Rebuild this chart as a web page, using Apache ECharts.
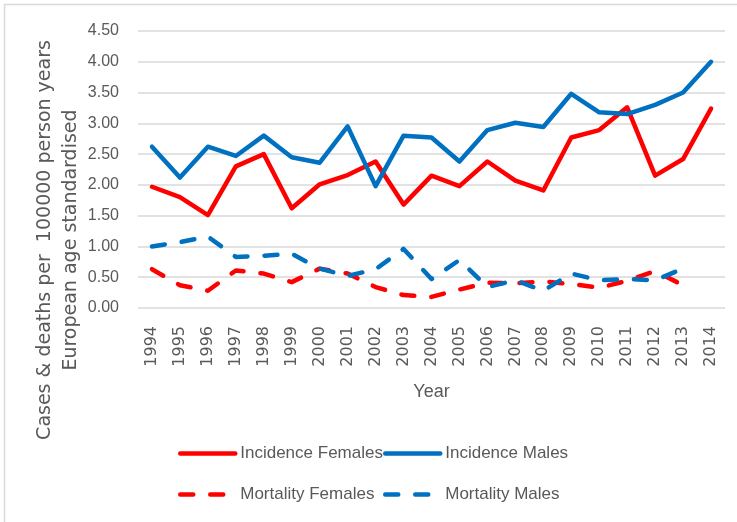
<!DOCTYPE html>
<html>
<head>
<meta charset="utf-8">
<script src="https://cdn.jsdelivr.net/npm/echarts@6/dist/echarts.min.js"></script>
<style>
html,body{margin:0;padding:0;background:#fff;}
#chart{width:737px;height:522px;}
</style>
</head>
<body>
<div id="chart"></div>
<script>
const years = ['1994','1995','1996','1997','1998','1999','2000','2001','2002','2003','2004','2005','2006','2007','2008','2009','2010','2011','2012','2013','2014'];
const incidenceFemales = [1.97,1.80,1.51,2.30,2.50,1.62,2.01,2.16,2.38,1.68,2.15,1.98,2.38,2.07,1.91,2.77,2.89,3.26,2.15,2.42,3.24];
const incidenceMales   = [2.62,2.12,2.62,2.47,2.80,2.45,2.36,2.95,1.98,2.80,2.77,2.38,2.89,3.01,2.94,3.48,3.18,3.15,3.30,3.50,4.00];
const mortalityFemales = [0.63,0.37,0.28,0.61,0.56,0.42,0.64,0.56,0.34,0.21,0.18,0.30,0.41,0.40,0.43,0.39,0.33,0.44,0.60,0.37,null];
const mortalityMales   = [1.00,1.07,1.16,0.83,0.85,0.88,0.64,0.52,0.63,0.96,0.47,0.78,0.34,0.45,0.28,0.56,0.45,0.47,0.45,0.64,null];
const yTicks = [0,0.5,1,1.5,2,2.5,3,3.5,4,4.5];
const seriesNames = ['Incidence Females','Incidence Males','Mortality Females','Mortality Males'];

const RED = '#ff0000', BLUE = '#0070c0', GREY = '#595959';
const DASH = [13, 17];
const chart = echarts.init(document.getElementById('chart'));

function mkSeries(name, data, color, dashed) {
  return {
    name: name, type: 'line', data: data, symbol: 'none', connectNulls: false,
    lineStyle: { color: color, width: 4.5, type: dashed ? DASH : 'solid', cap: 'round', join: 'round' },
    itemStyle: { color: color }
  };
}
function mkLegend(name, color, dashed, left, top) {
  return {
    data: [name], left: left, top: top, padding: 0, itemWidth: 55, itemHeight: 14, itemGap: 0,
    itemStyle: { opacity: 0 },
    lineStyle: { color: color, width: 4.5, type: dashed ? DASH : 'solid', cap: 'round' },
    textStyle: { fontFamily: 'Liberation Sans', fontSize: 17, color: GREY }
  };
}

chart.setOption({
  animation: false,
  backgroundColor: '#fff',
  grid: { left: 138, right: 12, top: 31, bottom: 214 },
  xAxis: {
    type: 'category', data: years, boundaryGap: true,
    axisLine: { show: false }, axisTick: { show: false },
    axisLabel: { rotate: 90, margin: 18, color: GREY, fontFamily: 'DejaVu Sans', fontSize: 16 },
    name: 'Year', nameLocation: 'middle', nameGap: 75,
    nameTextStyle: { color: GREY, fontFamily: 'Liberation Sans', fontSize: 18 }
  },
  yAxis: {
    type: 'value', min: yTicks[0], max: yTicks[yTicks.length - 1], interval: 0.5,
    axisLine: { show: false }, axisTick: { show: false },
    axisLabel: { margin: 19, color: GREY, fontFamily: 'Liberation Sans', fontSize: 16,
      formatter: v => v.toFixed(2) },
    splitLine: { lineStyle: { color: '#d9d9d9', width: 1.5 } }
  },
  legend: [
    mkLegend(seriesNames[0], RED, false, 178, 445),
    mkLegend(seriesNames[1], BLUE, false, 383, 445),
    mkLegend(seriesNames[2], RED, true, 178, 486),
    mkLegend(seriesNames[3], BLUE, true, 383, 486)
  ],
  graphic: [
    { type: 'polyline', shape: { points: [[4.5, 522], [4.5, 4.5], [737, 4.5]] },
      style: { stroke: '#d9d9d9', lineWidth: 1.5, fill: null }, silent: true },
    { type: 'text', x: 58, y: 240, rotation: Math.PI / 2,
      style: { text: 'Cases & deaths per  100000 person years\nEuropean age standardised',
        font: '19px "DejaVu Sans"', fill: GREY, align: 'center', verticalAlign: 'middle', lineHeight: 26 } }
  ],
  series: [
    mkSeries(seriesNames[0], incidenceFemales, RED, false),
    mkSeries(seriesNames[1], incidenceMales, BLUE, false),
    mkSeries(seriesNames[2], mortalityFemales, RED, true),
    mkSeries(seriesNames[3], mortalityMales, BLUE, true)
  ]
});
</script>
</body>
</html>
